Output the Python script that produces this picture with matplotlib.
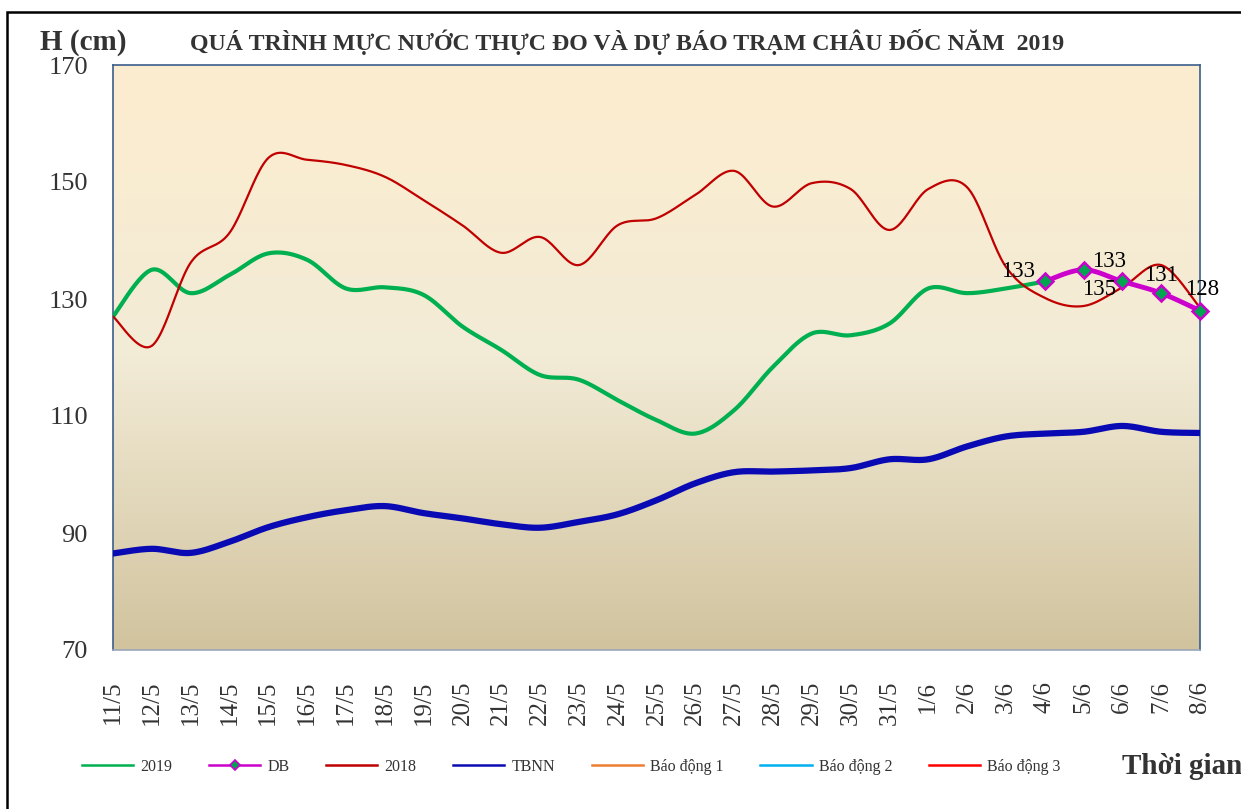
#!/usr/bin/env python3
"""Mực nước thực đo và dự báo trạm Châu Đốc 2019 -> out.png"""
import numpy as np
import matplotlib
matplotlib.use("Agg")
import matplotlib.pyplot as plt
from matplotlib.colors import LinearSegmentedColormap
from matplotlib.lines import Line2D
from matplotlib.patches import Rectangle

plt.rcParams['font.family'] = ['Liberation Serif', 'DejaVu Serif']

DATES = ["11/5", "12/5", "13/5", "14/5", "15/5", "16/5", "17/5", "18/5", "19/5",
         "20/5", "21/5", "22/5", "23/5", "24/5", "25/5", "26/5", "27/5", "28/5",
         "29/5", "30/5", "31/5", "1/6", "2/6", "3/6", "4/6", "5/6", "6/6", "7/6", "8/6"]

# measured 2019, 11/5 .. 4/6
H_2019 = [127, 135, 131, 134.1, 137.8, 136.7, 131.8, 132, 130.7, 125.3, 121.3, 117,
          116.2, 112.7, 109.3, 107, 111, 118.4, 124.1, 123.8, 125.8, 131.8, 131,
          131.8, 133]
# forecast, 4/6 .. 8/6
H_DB = [133, 135, 133, 131, 128]
H_2018 = [127, 122, 136.2, 141.3, 154.1, 153.8, 152.9, 150.9, 146.9, 142.6, 137.9,
          140.6, 135.8, 142.6, 143.8, 147.8, 151.9, 145.8, 149.8, 148.8, 141.8,
          148.8, 149.1, 135.5, 130.2, 128.8, 132, 135.8, 128.5]
H_TBNN = [86.5, 87.3, 86.6, 88.5, 91.0, 92.7, 93.9, 94.6, 93.4, 92.5, 91.5, 90.9,
          91.9, 93.2, 95.6, 98.5, 100.4, 100.5, 100.7, 101.1, 102.6, 102.6, 104.8,
          106.5, 107.0, 107.3, 108.3, 107.3, 107.1]
# alarm levels at Châu Đốc (off the chart scale)
ALARMS = [350, 400, 450]


def smooth(x, y, n=24):
    """Excel-like smoothed line (Bezier through points, Catmull-Rom tangents)."""
    x = np.asarray(x, float)
    y = np.asarray(y, float)
    P = np.column_stack([x, y])
    P = np.vstack([P[0], P, P[-1]])
    t = np.linspace(0, 1, n)[:, None]
    out = []
    for i in range(1, len(P) - 2):
        p0, p1, p2, p3 = P[i - 1], P[i], P[i + 1], P[i + 2]
        c1 = p1 + (p2 - p0) / 6
        c2 = p2 - (p3 - p1) / 6
        seg = ((1 - t) ** 3) * p1 + 3 * ((1 - t) ** 2) * t * c1 \
            + 3 * (1 - t) * t ** 2 * c2 + t ** 3 * p2
        out.append(seg if i == 1 else seg[1:])
    out = np.vstack(out)
    return out[:, 0], out[:, 1]


W, H = 1241, 809
fig = plt.figure(figsize=(W / 100, H / 100), dpi=100)
ax = fig.add_axes([113 / W, 1 - 650 / H, (1200 - 113) / W, (650 - 65) / H])

# outer frame
fig.patches.append(Rectangle((7 / W, -0.05), 1.1, 1 - 12 / H + 0.05,
                             transform=fig.transFigure, fill=False,
                             edgecolor="black", lw=1.8))

# gradient background
cmap = LinearSegmentedColormap.from_list(
    "bg", [(0, "#FDEDCF"), (0.5, "#F2EBD6"), (1, "#D1C39E")])
grad = np.linspace(0, 1, 256)[:, None]
ax.imshow(grad, extent=[0, 28, 70, 170], aspect="auto", cmap=cmap,
          origin="upper", zorder=0)

idx = np.arange(len(DATES))
c2019, cdb, c2018, ctbnn = "#00B050", "#CC00CC", "#C00000", "#0A0AB4"
alarm_colors = ["#ED7D31", "#00B0F0", "#FF0000"]

ax.plot(*smooth(idx[:len(H_2019)], H_2019), color=c2019, lw=3.0, zorder=3)
db_x = idx[len(H_2019) - 1:]
ax.plot(*smooth(db_x, H_DB), color=cdb, lw=3.5, zorder=4)
ax.plot(db_x, H_DB, ls="none", marker="D", ms=8, mfc="#00A550", mec=cdb,
        mew=1.8, zorder=5, clip_on=False)
ax.plot(*smooth(idx, H_2018), color=c2018, lw=1.6, zorder=3)
ax.plot(*smooth(idx, H_TBNN), color=ctbnn, lw=4.5, zorder=3)
for lv, c in zip(ALARMS, alarm_colors):
    ax.plot(idx, [lv] * len(idx), color=c, lw=1.6)

# data labels for the forecast (placed as in the original)
offsets = [(-19, 7), (11.5, -14.5), (-9.5, 14.5), (0, 13), (1.5, 15)]
for xi, v, off in zip(db_x, H_DB, offsets):
    ax.annotate(f"{v:g}", (xi, v), xytext=off, textcoords="offset points",
                ha="center", va="center", fontsize=16.5, color="black",
                annotation_clip=False, zorder=6)

ax.set_xlim(0, 28)
ax.set_ylim(70, 170)
ax.set_yticks(np.arange(70, 171, 20))
ax.set_xticks(idx)
ax.set_xticklabels(DATES, rotation=90)
ax.tick_params(axis="y", length=0, pad=18, labelsize=19, labelcolor="#333333")
ax.tick_params(axis="x", length=0, pad=22, labelsize=18, labelcolor="#333333")
for s in ax.spines.values():
    s.set_color("#3B5E8C")
    s.set_linewidth(1.2)
ax.spines["bottom"].set_color("#9AA6B8")

fig.text(40 / W, 1 - 42 / H, "H (cm)", fontsize=21, fontweight="bold",
         color="#333333", ha="left", va="center")
fig.text(190 / W, 1 - 42 / H,
         "QUÁ TRÌNH MỰC NƯỚC THỰC ĐO VÀ DỰ BÁO TRẠM CHÂU ĐỐC NĂM  2019",
         fontsize=17.2, fontweight="bold", color="#333333", ha="left", va="center")
fig.text(1122 / W, 1 - 766 / H, "Thời gian", fontsize=21, fontweight="bold",
         color="#333333", ha="left", va="center")

# legend with thin sample lines, as in the original
leg_labels = ["2019", "DB", "2018", "TBNN", "Báo động 1", "Báo động 2", "Báo động 3"]
leg_colors = [c2019, cdb, c2018, ctbnn] + alarm_colors
handles = [Line2D([], [], color=c, lw=1.8) for c in leg_colors]
handles[1] = Line2D([], [], color=cdb, lw=1.8, marker="D", ms=5,
                    mfc="#00A550", mec=cdb, mew=1.2)
fig.legend(handles, leg_labels, loc="center left",
           bbox_to_anchor=(82 / W, 1 - 767 / H), ncol=7, frameon=False,
           fontsize=11.5, handlelength=3.2, handletextpad=0.45,
           columnspacing=2.3, borderpad=0, borderaxespad=0,
           labelcolor="#333333")

fig.savefig("out.png", dpi=100)
